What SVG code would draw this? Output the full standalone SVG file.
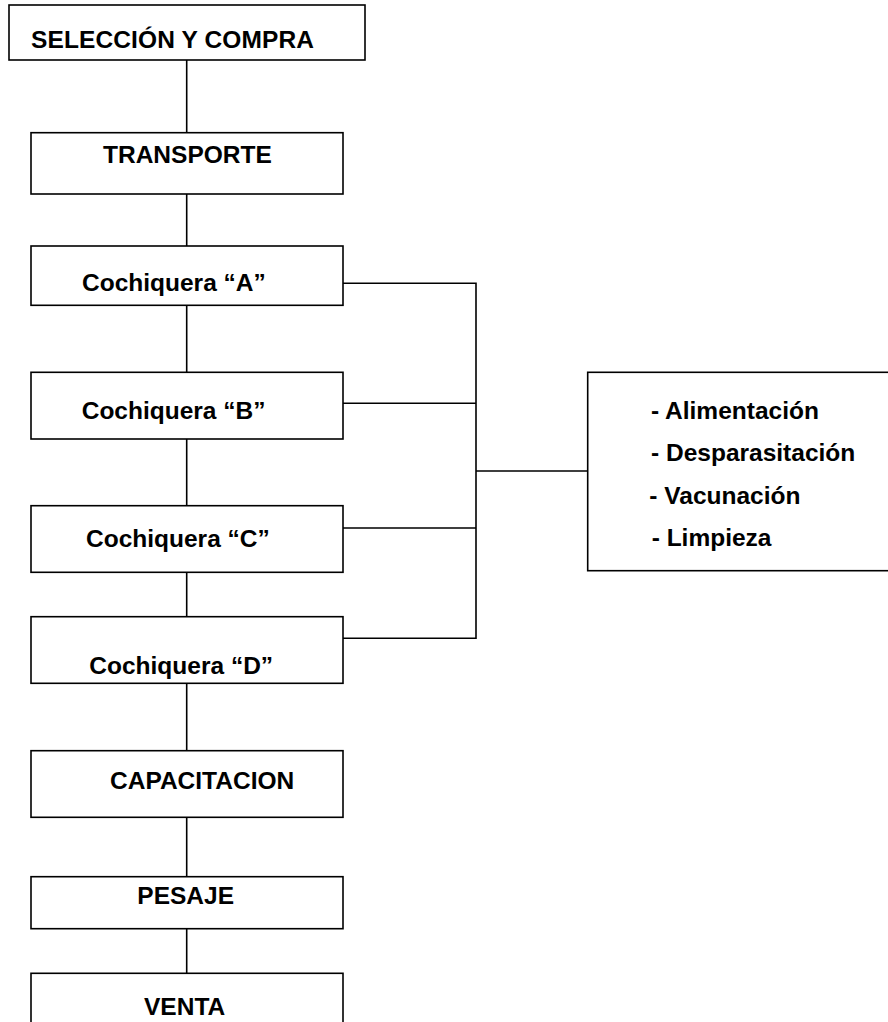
<svg xmlns="http://www.w3.org/2000/svg" width="888" height="1022" viewBox="0 0 888 1022">
<style>
.box{fill:#fff;stroke:#000;stroke-width:1.6}
.t{font-family:"Liberation Sans",Arial,sans-serif;font-weight:bold;font-size:24.5px;fill:#000}
.c{fill:none;stroke:#000;stroke-width:1.6}
</style>
<rect width="888" height="1022" fill="#fff"/>
<g id="connectors">
<path class="c" d="M186.7,60V132.7M186.7,194V246M186.7,305.3V372.3M186.7,439V505.7M186.7,572.3V616.7M186.7,683.3V750.7M186.7,817.3V882M186.7,928.7V973.3"/>
<path class="c" d="M343,283.3H476V638.3H343M343,403.3H476M343,528H476M476,471H587.7"/>
</g>
<g id="seleccion"><rect class="box" x="9" y="5" width="356" height="55"/><text class="t" x="31" y="48" textLength="283" lengthAdjust="spacing">SELECCIÓN Y COMPRA</text></g>
<g id="transporte"><rect class="box" x="31" y="132.7" width="312" height="61.3"/><text class="t" x="103" y="163">TRANSPORTE</text></g>
<g id="cochA"><rect class="box" x="31" y="246" width="312" height="59.3"/><text class="t" x="82" y="290.5">Cochiquera “A”</text></g>
<g id="cochB"><rect class="box" x="31" y="372.3" width="312" height="66.7"/><text class="t" x="81.7" y="419">Cochiquera “B”</text></g>
<g id="cochC"><rect class="box" x="31" y="505.7" width="312" height="66.6"/><text class="t" x="86" y="546.5">Cochiquera “C”</text></g>
<g id="cochD"><rect class="box" x="31" y="616.7" width="312" height="66.6"/><text class="t" x="89.3" y="674">Cochiquera “D”</text></g>
<g id="capacitacion"><rect class="box" x="31" y="750.7" width="312" height="66.6"/><text class="t" x="110" y="789">CAPACITACION</text></g>
<g id="pesaje"><rect class="box" x="31" y="876.7" width="312" height="52"/><text class="t" x="137.3" y="903.5">PESAJE</text></g>
<g id="venta"><rect class="box" x="31" y="973.3" width="312" height="60"/><text class="t" x="144" y="1015">VENTA</text></g>
<g id="actividades"><rect class="box" x="587.7" y="372.3" width="310" height="198.4"/>
<text class="t" x="651" y="418.5">- Alimentación</text>
<text class="t" x="651" y="461">- Desparasitación</text>
<text class="t" x="649.3" y="503.5">- Vacunación</text>
<text class="t" x="651.7" y="546">- Limpieza</text>
</g>
</svg>
